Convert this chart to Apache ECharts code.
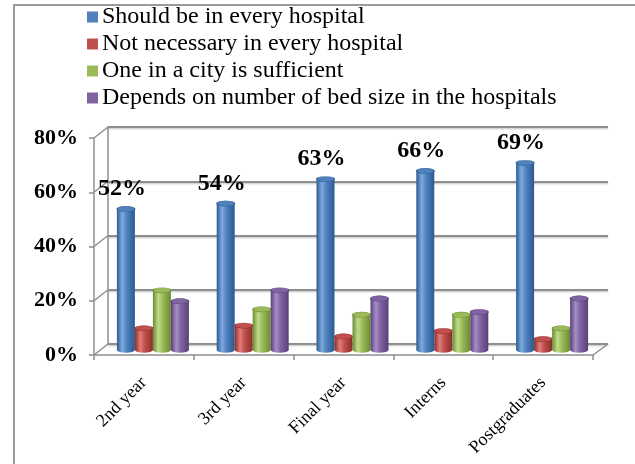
<!DOCTYPE html>
<html>
<head>
<meta charset="utf-8">
<script src="https://cdn.jsdelivr.net/npm/echarts@6/dist/echarts.min.js"></script>
<style>
  html, body { margin: 0; padding: 0; background: #fff; }
  #chart { width: 635px; height: 464px; }
</style>
</head>
<body>
<div id="chart"></div>
<script>
// Student groups on the category axis
const categories = ['2nd year', '3rd year', 'Final year', 'Interns', 'Postgraduates'];

// Opinion series (share of respondents)
const seriesNames = [
  'Should be in every hospital',
  'Not necessary in every hospital',
  'One in a city is sufficient',
  'Depends on number of bed size in the hospitals'
];
const shouldBeInEvery = [0.52, 0.54, 0.63, 0.66, 0.69];
const notNecessary    = [0.08, 0.09, 0.05, 0.07, 0.04];
const oneInCity       = [0.22, 0.15, 0.13, 0.13, 0.08];
const dependsOnBeds   = [0.18, 0.22, 0.19, 0.14, 0.19];

// Value-axis ticks
const yTicks = [0, 0.2, 0.4, 0.6, 0.8];

const seriesValues = [shouldBeInEvery, notNecessary, oneInCity, dependsOnBeds];

// Cylinder shading: [base, highlight, shadow]
const palette = [
  ['#4F81BD', '#7eaae0', '#2c5a91'],
  ['#C0504D', '#e27d7a', '#8c2d2a'],
  ['#9BBB59', '#c0dc8a', '#6c8a32'],
  ['#8064A2', '#a78dc8', '#574177']
];

const SERIF = '"Liberation Serif", "Times New Roman", serif';
const BAR_W = 18;
const DEPTH_X = 14, DEPTH_Y = -11;
const WALL = '#8f8f8f';

function bodyFill(c) {
  return new echarts.graphic.LinearGradient(0, 0, 1, 0, [
    { offset: 0, color: c[2] },
    { offset: 0.3, color: c[1] },
    { offset: 0.55, color: c[0] },
    { offset: 1, color: c[2] }
  ]);
}

function cylinderRenderer(sIdx) {
  const c = palette[sIdx];
  return function (params, api) {
    const i = api.value(0);
    const v = api.value(1);
    const base = api.coord([i, 0]);
    const top = api.coord([i, v]);
    const x = base[0] - 2 * BAR_W + sIdx * BAR_W;
    const cx = x + BAR_W / 2;
    const children = [
      {
        type: 'circle',
        x: cx, y: base[1], scaleY: 0.3,
        shape: { cx: 0, cy: 0, r: BAR_W / 2 },
        style: { fill: bodyFill(c) }
      },
      {
        type: 'rect',
        shape: { x: x, y: top[1], width: BAR_W, height: base[1] - top[1] },
        style: { fill: bodyFill(c) }
      },
      {
        type: 'circle',
        x: cx, y: top[1], scaleY: 0.3,
        shape: { cx: 0, cy: 0, r: BAR_W / 2 },
        style: { fill: c[0], stroke: c[2], lineWidth: 1.2 }
      }
    ];
    if (sIdx === 0) {
      children.push({
        type: 'text',
        x: cx - 4, y: top[1] - 20,
        style: {
          text: Math.round(v * 100) + '%',
          font: 'bold 24px ' + SERIF,
          fill: '#000',
          align: 'center', verticalAlign: 'middle',
          textAlign: 'center', textVerticalAlign: 'middle'
        }
      });
    }
    return { type: 'group', children: children };
  };
}

// Diagonal edges joining the front axes to the back wall
function edgeRenderer(params, api) {
  const v = api.value(0);
  const cs = params.coordSys;
  const p = api.coord([0, v]);
  const lines = [{
    type: 'line',
    shape: { x1: cs.x, y1: p[1], x2: cs.x + DEPTH_X, y2: p[1] + DEPTH_Y },
    style: { stroke: WALL, lineWidth: 1.5 }
  }];
  if (v === 0) {
    lines.push({
      type: 'line',
      shape: { x1: cs.x + cs.width, y1: p[1], x2: cs.x + cs.width + DEPTH_X + 1, y2: p[1] + DEPTH_Y },
      style: { stroke: WALL, lineWidth: 1.5 }
    });
  }
  return { type: 'group', children: lines };
}

const valueAxisBase = { type: 'value', min: 0, max: 0.8, interval: 0.2 };

const chart = echarts.init(document.getElementById('chart'), null, { renderer: 'canvas' });

chart.setOption({
  backgroundColor: '#fff',
  animation: false,
  graphic: [{
    type: 'polyline',
    shape: { points: [[14, 470], [14, 5], [640, 5]] },
    style: { stroke: '#9a9a9a', lineWidth: 2, fill: null },
    silent: true
  }],
  legend: {
    data: seriesNames,
    orient: 'vertical',
    left: 87, top: 5,
    padding: 0,
    itemWidth: 11, itemHeight: 11, itemGap: 3,
    icon: 'rect',
    textStyle: { fontFamily: SERIF, fontSize: 24, color: '#000', lineHeight: 24, padding: [0, 0, 0, -1] }
  },
  grid: [
    { left: 94, right: 42, top: 138, bottom: 109 },  // front plane
    { left: 108, right: 27, top: 127, bottom: 120 }, // back wall
    { left: 103, right: 33, top: 133, bottom: 114 }  // bar plane
  ],
  xAxis: [
    {
      type: 'category', gridIndex: 0, data: categories,
      axisLine: { lineStyle: { color: WALL, width: 1.5 } },
      axisTick: { show: true, length: 5, lineStyle: { color: WALL, width: 1.5 } },
      axisLabel: {
        rotate: 45, margin: 25, interval: 0,
        fontFamily: SERIF, fontSize: 18, color: '#000'
      },
      splitLine: { show: false }
    },
    { type: 'category', gridIndex: 1, data: categories, show: false },
    { type: 'category', gridIndex: 2, data: categories, show: false }
  ],
  yAxis: [
    Object.assign({}, valueAxisBase, {
      gridIndex: 0,
      axisLine: { show: true, lineStyle: { color: WALL, width: 1.5 } },
      axisTick: { show: true, length: 5, lineStyle: { color: WALL, width: 1.5 } },
      axisLabel: {
        margin: 16,
        fontFamily: SERIF, fontSize: 22, fontWeight: 'bold', color: '#000',
        formatter: function (v) { return Math.round(v * 100) + '%'; }
      },
      splitLine: { show: false }
    }),
    Object.assign({}, valueAxisBase, {
      gridIndex: 1,
      axisLine: { show: true, lineStyle: { color: WALL, width: 1.5 } },
      axisTick: { show: false },
      axisLabel: { show: false },
      splitLine: {
        show: true,
        lineStyle: {
          color: WALL, width: 2,
          shadowColor: 'rgba(0,0,0,0.25)', shadowBlur: 2, shadowOffsetY: 1
        }
      }
    }),
    Object.assign({}, valueAxisBase, { gridIndex: 2, show: false, splitLine: { show: false } })
  ],
  series: [
    {
      type: 'custom', name: 'wall-edges', silent: true,
      xAxisIndex: 0, yAxisIndex: 0,
      data: yTicks.map(function (t) { return [t]; }),
      encode: { y: 0 },
      renderItem: edgeRenderer,
      z: 1
    }
  ].concat(seriesValues.map(function (vals, s) {
    return {
      type: 'custom',
      name: seriesNames[s],
      xAxisIndex: 2, yAxisIndex: 2,
      itemStyle: { color: palette[s][0] },
      data: vals.map(function (v, i) { return [i, v]; }),
      encode: { x: 0, y: 1 },
      renderItem: cylinderRenderer(s),
      z: 3
    };
  }))
});
</script>
</body>
</html>
